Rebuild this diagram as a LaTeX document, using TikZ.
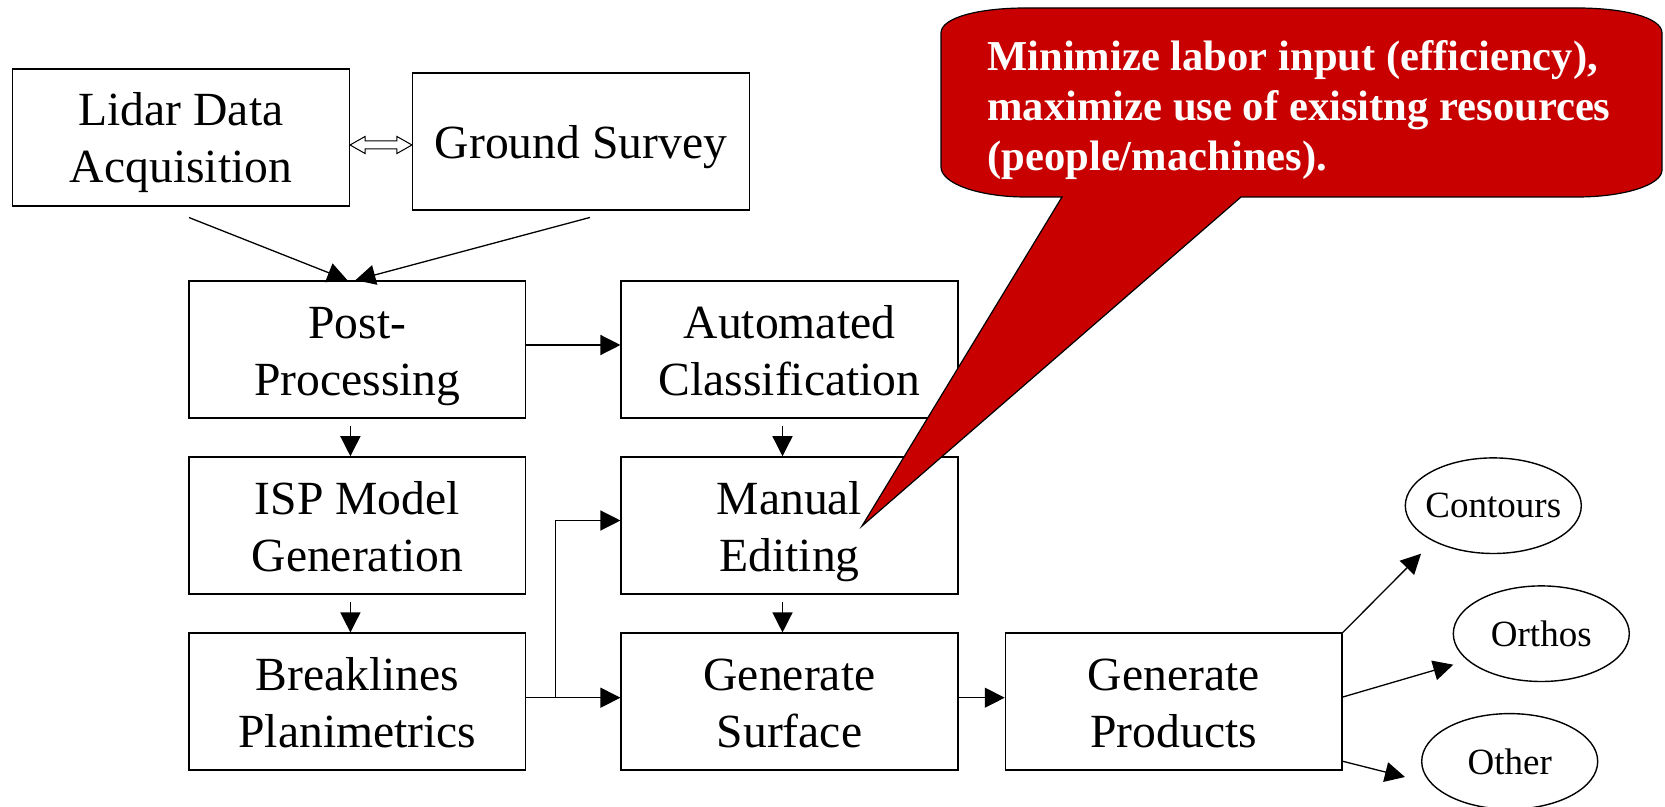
\documentclass[tikz,border=0pt]{standalone}
\usepackage{fontspec}
\setmainfont{Liberation Serif}
\usetikzlibrary{arrows.meta,shapes.geometric,calc}
\definecolor{callred}{RGB}{200,0,0}
\begin{document}
\begin{tikzpicture}[x=0.5pt,y=-0.5pt,
  basebox/.style={draw, line width=0.75pt, fill=white, minimum width=168.3pt, minimum height=68.5pt, inner sep=0pt, align=center, font=\fontsize{23.8}{28.5}\selectfont},
  box/.style={basebox, execute at begin node={\rule[-6pt]{0pt}{57.7pt}}},
  onebox/.style={basebox, execute at begin node={\rule[-6pt]{0pt}{29.2pt}}},
  oval/.style={draw, ellipse, line width=0.7pt, minimum width=88pt, minimum height=47.8pt, inner xsep=-4pt, inner ysep=0pt, font=\fontsize{18.5}{22}\selectfont},
  arr/.style={line width=0.65pt, -{Triangle[length=10pt,width=10pt]}},
  lnk/.style={line width=0.65pt}
]
\useasboundingbox (0,0) rectangle (1665,807);

% boxes
\node[box] (lidar) at (181,137.3) {Lidar Data\\Acquisition};
\node[onebox] (ground) at (581,141.5) {Ground Survey};
\node[box] (post) at (357.4,349.4) {Post-\\Processing};
\node[box] (auto) at (789.5,349.4) {Automated\\Classification};
\node[box] (isp) at (357.4,525.5) {ISP Model\\Generation};
\node[box] (manual) at (789.5,525.5) {Manual\\Editing};
\node[box] (brk) at (357.4,701.7) {Breaklines\\Planimetrics};
\node[box] (surf) at (789.5,701.7) {Generate\\Surface};
\node[box] (prod) at (1173.8,701.7) {Generate\\Products};

% ellipses
\node[oval] (contours) at (1493.3,505.7) {Contours};
\node[oval] (orthos) at (1541.3,633.7) {Orthos};
\node[oval] (other) at (1509.7,761.4) {Other};

% double arrow
\coordinate (da) at ($(lidar.east)+(0,7.7)$);
\coordinate (db) at ($(ground.west)+(0,3.5)$);
\draw[line width=0.5pt, fill=white] (da) -- ++(15,-8.5) -- ++(0,4.5) -- ($(db)+(-15,-4)$) -- ++(0,-4.5) -- (db) -- ++(-15,8.5) -- ++(0,-4.5) -- ($(da)+(15,4)$) -- ++(0,4.5) -- cycle;

% connectors
\draw[arr] ($(lidar.south)+(8,11)$) -- ($(post.north)+(-10,0)$);
\draw[arr] ($(ground.south)+(9,6.7)$) -- ($(post.north)+(-2,0)$);
\draw[arr] ($(post.east)+(0,-4.4)$) -- ($(auto.west)+(0,-4.4)$);
\draw[arr] ($(post.south)+(-7,7)$) -- ($(isp.north)+(-7,0)$);
\draw[arr] ($(isp.south)+(-7,7)$) -- ($(brk.north)+(-7,0)$);
\draw[arr] ($(auto.south)+(-7,7)$) -- ($(manual.north)+(-7,0)$);
\draw[arr] ($(manual.south)+(-7,7)$) -- ($(surf.north)+(-7,0)$);
\draw[arr] ($(brk.east)+(0,-4)$) -- ($(surf.west)+(0,-4)$);
\draw[arr] ($(brk.east)+(29,-4)$) |- ($(manual.west)+(0,-5)$);
\draw[arr] ($(surf.east)+(0,-4)$) -- ($(prod.west)+(0,-4)$);
\draw[arr] (prod.north east) -- ($(contours.center)+(-72.3,48)$);
\draw[arr] ($(prod.east)+(0,-4.7)$) -- ($(orthos.center)+(-88,31)$);
\draw[arr] ($(prod.east)+(0,59.6)$) -- ($(other.center)+(-104.7,15.6)$);

% callout
\coordinate (tip) at ($(manual.center)+(72.5,0.5)$);
\draw[line width=0.6pt, fill=callred] (941,33) .. controls (941,17.5) and (979,8) .. (1026,8) -- (1577,8) .. controls (1624,8) and (1662,17.5) .. (1662,33) -- (1662,170) .. controls (1662,185) and (1624,197) .. (1577,197) -- (1241,197) -- (tip) -- (1062,197) -- (1026,197) .. controls (979,197) and (941,183.5) .. (941,167) -- cycle;
\node[anchor=north west, inner sep=0pt, text=white, align=left, font=\fontsize{21.3}{25}\selectfont\bfseries] (note) at (987,40) {Minimize labor input (efficiency),\\maximize use of exisitng resources\\(people/machines).};
\end{tikzpicture}
\end{document}
